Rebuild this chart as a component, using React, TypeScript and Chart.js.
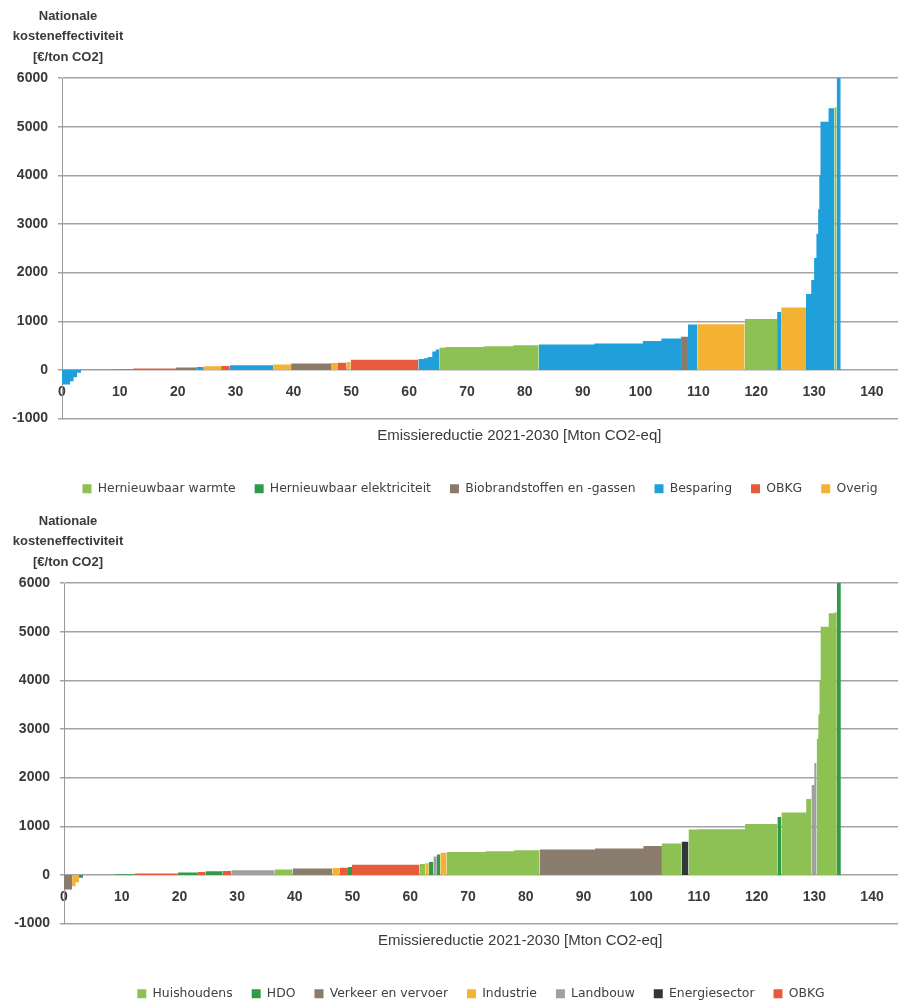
import React, { useEffect, useRef } from 'react';
import { Chart, registerables } from 'chart.js';

Chart.register(...registerables);

// ---------- DATA ----------
const techCategories = [
  'Hernieuwbaar warmte',
  'Hernieuwbaar elektriciteit',
  'Biobrandstoffen en -gassen',
  'Besparing',
  'OBKG',
  'Overig',
];

const sectorCategories = [
  'Huishoudens',
  'HDO',
  'Verkeer en vervoer',
  'Industrie',
  'Landbouw',
  'Energiesector',
  'OBKG',
];

// emission reduction of each measure (Mton CO2-eq), in merit order
const reductionMton = [
  1.4, 0.6, 0.6, 0.7, 5.5, 3.5, 7.4, 3.5, 1.3, 3.0,
  1.5, 7.5, 3.1, 6.9, 1.2, 1.5, 0.7, 11.7, 1.0, 0.6,
  0.8, 0.6, 0.6, 1.1, 6.7, 5.0, 4.4, 9.6, 8.4, 3.2,
  3.4, 1.2, 1.6, 8.2, 5.6, 0.7, 4.3, 0.9, 0.5, 0.4,
  0.3, 0.2, 0.2, 1.4, 1.0, 0.4, 0.7,
];

// national cost effectiveness of each measure (EUR / ton CO2)
const costEurPerTon = [
  -300, -230, -150, -60, 6, 15, 32, 50, 60, 75,
  82, 95, 110, 130, 142, 150, 165, 207, 225, 240,
  265, 380, 420, 455, 470, 485, 505, 525, 545, 595,
  645, 680, 935, 940, 1045, 1190, 1285, 1560, 1850, 2300,
  2800, 3300, 4000, 5100, 5380, 5400, 6500,
];

const measureTechnology = [
  'Besparing', 'Besparing', 'Besparing', 'Besparing', 'Biobrandstoffen en -gassen',
  'Besparing', 'OBKG', 'Biobrandstoffen en -gassen', 'Besparing', 'Overig',
  'OBKG', 'Besparing', 'Overig', 'Biobrandstoffen en -gassen', 'Overig',
  'OBKG', 'Overig', 'OBKG', 'Besparing', 'Besparing',
  'Besparing', 'Besparing', 'Besparing', 'Hernieuwbaar warmte', 'Hernieuwbaar warmte',
  'Hernieuwbaar warmte', 'Hernieuwbaar warmte', 'Besparing', 'Besparing', 'Besparing',
  'Besparing', 'Biobrandstoffen en -gassen', 'Besparing', 'Overig', 'Hernieuwbaar warmte',
  'Besparing', 'Overig', 'Besparing', 'Besparing', 'Besparing',
  'Besparing', 'Besparing', 'Besparing', 'Besparing', 'Besparing',
  'Hernieuwbaar warmte', 'Besparing',
];

const measureSector = [
  'Verkeer en vervoer', 'Industrie', 'Industrie', 'HDO', 'Landbouw',
  'HDO', 'OBKG', 'HDO', 'OBKG', 'HDO',
  'OBKG', 'Landbouw', 'Huishoudens', 'Verkeer en vervoer', 'Industrie',
  'OBKG', 'HDO', 'OBKG', 'Huishoudens', 'Industrie',
  'HDO', 'Landbouw', 'HDO', 'Industrie', 'Huishoudens',
  'Huishoudens', 'Huishoudens', 'Verkeer en vervoer', 'Verkeer en vervoer', 'Verkeer en vervoer',
  'Huishoudens', 'Energiesector', 'Huishoudens', 'Huishoudens', 'Huishoudens',
  'HDO', 'Huishoudens', 'Huishoudens', 'Landbouw', 'Landbouw',
  'Huishoudens', 'Huishoudens', 'Huishoudens', 'Huishoudens', 'Huishoudens',
  'Huishoudens', 'HDO',
];

const xTickValues = [0, 10, 20, 30, 40, 50, 60, 70, 80, 90, 100, 110, 120, 130, 140];
const yTickValues = [-1000, 0, 1000, 2000, 3000, 4000, 5000, 6000];

const yTitleLines = ['Nationale', 'kosteneffectiviteit', '[€/ton CO2]'];
const xTitle = 'Emissiereductie 2021-2030 [Mton CO2-eq]';

// ---------- STYLES ----------
const techColors = ['#8dc153', '#2f9b48', '#8a7a6a', '#1fa0da', '#e85a3c', '#f4b233'];
const sectorColors = ['#8dc153', '#2f9b48', '#8a7d6e', '#f4b233', '#a0a0a0', '#30373c', '#e85a3c'];

const FONT = "'Liberation Sans', Arial, sans-serif";
const TEXT = '#3a3a3a';

function buildDatasets(categories: string[], colors: string[], measureCat: string[]) {
  const starts: number[] = [];
  const ends: number[] = [];
  let acc = 0;
  reductionMton.forEach((w) => {
    starts.push(acc);
    acc += w;
    ends.push(acc);
  });
  return categories.map((cat, ci) => {
    const data: any[] = [];
    measureCat.forEach((c, i) => {
      if (c !== cat) return;
      data.push({ x: starts[i], y: costEurPerTon[i] });
      data.push({ x: ends[i], y: costEurPerTon[i] });
      if (measureCat[i + 1] !== cat) data.push({ x: ends[i], y: null });
    });
    return {
      label: cat,
      data,
      backgroundColor: colors[ci],
      borderColor: colors[ci],
      borderWidth: 0,
      pointRadius: 0,
      pointHoverRadius: 0,
      fill: 'origin',
      spanGaps: false,
      tension: 0,
    };
  });
}

const titlesPlugin = {
  id: 'axisTitles',
  afterDraw(chart: any) {
    const { ctx, chartArea } = chart;
    ctx.save();
    ctx.fillStyle = TEXT;
    ctx.textAlign = 'center';
    ctx.textBaseline = 'middle';
    ctx.font = `bold 13px ${FONT}`;
    yTitleLines.forEach((t, i) => ctx.fillText(t, 68, 16 + i * 20.5));
    ctx.font = `15px ${FONT}`;
    ctx.fillText(xTitle, chartArea.left + 0.547 * (chartArea.right - chartArea.left), chartArea.bottom + 17);
    ctx.restore();
  },
};

function makeConfig(categories: string[], colors: string[], measureCat: string[], leftWidth: number): any {
  return {
    type: 'line',
    data: { datasets: buildDatasets(categories, colors, measureCat) },
    options: {
      animation: false,
      responsive: false,
      events: [],
      layout: { padding: { top: 78, left: 0, right: 7, bottom: 0 } },
      scales: {
        x: {
          type: 'linear',
          min: 0,
          max: 144.5,
          position: { y: 0 },
          afterBuildTicks: (s: any) => {
            s.ticks = xTickValues.map((v) => ({ value: v }));
          },
          grid: { display: false, drawTicks: false },
          border: { display: false },
          ticks: {
            padding: 14,
            color: TEXT,
            font: { family: FONT, size: 14, weight: 'bold' },
            maxRotation: 0,
            callback: (v: any) => String(v),
          },
        },
        x2: {
          type: 'linear',
          position: 'bottom',
          display: true,
          ticks: { display: false },
          grid: { display: false, drawTicks: false },
          border: { display: false },
          afterFit: (s: any) => {
            s.height = 45;
          },
        },
        y: {
          type: 'linear',
          min: -1000,
          max: 6000,
          afterBuildTicks: (s: any) => {
            s.ticks = yTickValues.map((v) => ({ value: v }));
          },
          afterFit: (s: any) => {
            s.width = leftWidth;
          },
          grid: { color: '#a3a3a3', lineWidth: 1.5, tickLength: 4 },
          border: { color: '#9a9a9a', width: 1 },
          ticks: {
            padding: 10,
            color: TEXT,
            font: { family: FONT, size: 14, weight: 'bold' },
            callback: (v: any) => String(v),
          },
        },
      },
      plugins: {
        legend: {
          position: 'bottom',
          fullSize: false,
          labels: {
            boxWidth: 9,
            boxHeight: 9,
            padding: 19,
            color: '#404040',
            font: { family: "'DejaVu Sans', sans-serif", size: 12.4 },
          },
        },
        tooltip: { enabled: false },
        title: { display: false },
      },
    },
    plugins: [titlesPlugin],
  };
}

export default function App() {
  const ref1 = useRef<HTMLCanvasElement>(null);
  const ref2 = useRef<HTMLCanvasElement>(null);

  useEffect(() => {
    const c1 = new Chart(ref1.current as HTMLCanvasElement, makeConfig(techCategories, techColors, measureTechnology, 62));
    const c2 = new Chart(ref2.current as HTMLCanvasElement, makeConfig(sectorCategories, sectorColors, measureSector, 64));
    return () => {
      c1.destroy();
      c2.destroy();
    };
  }, []);

  return (
    <div style={{ position: 'absolute', left: 0, top: 0, width: 905, height: 1003, overflow: 'hidden', background: '#fff' }}>
      <canvas ref={ref1} width={905} height={505} style={{ position: 'absolute', left: 0, top: 0 }} />
      <canvas ref={ref2} width={905} height={505} style={{ position: 'absolute', left: 0, top: 505 }} />
    </div>
  );
}
